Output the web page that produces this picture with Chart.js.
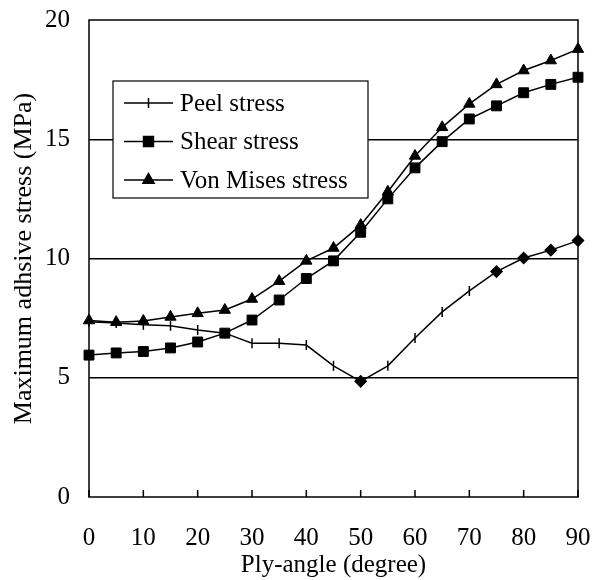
<!DOCTYPE html>
<html>
<head>
<meta charset="utf-8">
<script src="https://cdn.jsdelivr.net/npm/chart.js@4/dist/chart.umd.min.js"></script>
<style>
  html, body { margin: 0; padding: 0; background: #fff; }
  #wrap { width: 592px; height: 580px; }
</style>
</head>
<body>
<div id="wrap"><canvas id="chart" width="592" height="580"></canvas></div>
<script>
// Ply angle in degrees
const angles = [0, 5, 10, 15, 20, 25, 30, 35, 40, 45, 50, 55, 60, 65, 70, 75, 80, 85, 90];

// Maximum adhesive stress (MPa)
const peel_stress  = [7.35, 7.3, 7.22, 7.18, 7.0, 6.87, 6.45, 6.45, 6.37, 5.5, 4.85, 5.5, 6.67, 7.76, 8.64, 9.45, 10.02, 10.35, 10.75];
const shear_stress = [5.95, 6.04, 6.1, 6.25, 6.5, 6.87, 7.42, 8.26, 9.16, 9.9, 11.1, 12.5, 13.8, 14.9, 15.85, 16.4, 16.95, 17.3, 17.6];
const mises_stress = [7.4, 7.33, 7.38, 7.55, 7.7, 7.84, 8.3, 9.05, 9.9, 10.44, 11.4, 12.8, 14.3, 15.5, 16.48, 17.3, 17.88, 18.3, 18.78];

// peel markers: dashes, except where the original shows diamonds
const peel_diamonds = [50, 75, 80, 85, 90];

const y_ticks = [0, 5, 10, 15, 20];
const x_ticks = [0, 10, 20, 30, 40, 50, 60, 70, 80, 90];

const FONT = "'Liberation Serif', 'Times New Roman', serif";

function to_points(ys) {
    return angles.map((a, i) => ({x: a, y: ys[i]}));
}

const peel_styles = angles.map(a => peel_diamonds.includes(a) ? 'rectRot' : 'line');
const peel_rot = angles.map(a => peel_diamonds.includes(a) ? 0 : 90);
const peel_radius = angles.map(a => peel_diamonds.includes(a) ? 5.5 : 5);

// frame, inward x ticks and the boxed legend
const framePlugin = {
    id: 'frame',
    afterDraw(chart) {
        const ctx = chart.ctx;
        const area = chart.chartArea;
        const xs = chart.scales.x;
        ctx.save();
        ctx.strokeStyle = '#000';
        ctx.lineWidth = 1.5;
        ctx.strokeRect(area.left, area.top, area.right - area.left, area.bottom - area.top);

        ctx.beginPath();
        for (let i = 0; i < x_ticks.length; i++) {
            const px = xs.getPixelForValue(x_ticks[i]);
            ctx.moveTo(px, area.bottom);
            ctx.lineTo(px, area.bottom - 7);
        }
        ctx.stroke();

        // legend
        const lx = 113, ly = 81, lw = 255, lh = 117;
        ctx.fillStyle = '#fff';
        ctx.fillRect(lx, ly, lw, lh);
        ctx.lineWidth = 1.2;
        ctx.strokeRect(lx, ly, lw, lh);
        ctx.font = '25px ' + FONT;
        ctx.textBaseline = 'middle';
        const datasets = chart.data.datasets;
        for (let i = 0; i < datasets.length; i++) {
            const ds = datasets[i];
            const yy = ly + 22 + i * 38.5;
            ctx.strokeStyle = '#000';
            ctx.lineWidth = 1.5;
            ctx.beginPath();
            ctx.moveTo(124, yy);
            ctx.lineTo(173, yy);
            ctx.stroke();
            const style = Array.isArray(ds.pointStyle) ? 'line' : ds.pointStyle;
            ctx.fillStyle = '#000';
            Chart.helpers.drawPoint(ctx, {
                pointStyle: style,
                rotation: style === 'line' ? 90 : 0,
                radius: style === 'line' ? 5 : ds.pointRadius,
                borderWidth: 1.5
            }, 148.5, yy);
            ctx.fillStyle = '#000';
            ctx.fillText(ds.label, 180, yy + 1);
        }
        ctx.restore();
    }
};

const config = {
    type: 'line',
    data: {
        datasets: [
            {
                label: 'Peel stress',
                data: to_points(peel_stress),
                borderColor: '#000',
                backgroundColor: '#000',
                borderWidth: 1.5,
                pointStyle: peel_styles,
                pointRotation: peel_rot,
                pointRadius: peel_radius,
                pointBorderWidth: 1.5,
                clip: false
            },
            {
                label: 'Shear stress',
                data: to_points(shear_stress),
                borderColor: '#000',
                backgroundColor: '#000',
                borderWidth: 1.5,
                pointStyle: 'rect',
                pointRadius: 7,
                pointBorderWidth: 1,
                clip: false
            },
            {
                label: 'Von Mises stress',
                data: to_points(mises_stress),
                borderColor: '#000',
                backgroundColor: '#000',
                borderWidth: 1.5,
                pointStyle: 'triangle',
                pointRadius: 6.5,
                pointBorderWidth: 1,
                clip: false
            }
        ]
    },
    options: {
        responsive: false,
        animation: false,
        layout: { padding: { left: 0, right: 14, top: 20, bottom: 0 } },
        plugins: {
            legend: { display: false },
            tooltip: { enabled: false }
        },
        scales: {
            x: {
                type: 'linear',
                min: 0,
                max: 90,
                afterBuildTicks(scale) {
                    scale.ticks = x_ticks.map(v => ({value: v}));
                },
                afterFit(scale) {
                    scale.height = 83;
                    scale.paddingLeft = 0;
                    scale.paddingRight = 0;
                },
                grid: { display: false, drawTicks: false },
                border: { display: false },
                ticks: {
                    color: '#000',
                    padding: 26,
                    maxRotation: 0,
                    font: { family: FONT, size: 25 }
                },
                title: {
                    display: true,
                    text: 'Ply-angle (degree)',
                    color: '#000',
                    padding: { top: 0, bottom: 0 },
                    font: { family: FONT, size: 25 }
                }
            },
            y: {
                min: 0,
                max: 20,
                afterBuildTicks(scale) {
                    scale.ticks = y_ticks.map(v => ({value: v}));
                },
                afterFit(scale) {
                    scale.width = 89;
                    scale.paddingTop = 0;
                    scale.paddingBottom = 0;
                },
                grid: {
                    drawTicks: false,
                    lineWidth: 1.5,
                    color: ctx => (ctx.tick && ctx.tick.value > 0 && ctx.tick.value < 20) ? '#000' : 'rgba(0,0,0,0)'
                },
                border: { display: false },
                ticks: {
                    color: '#000',
                    padding: 19,
                    font: { family: FONT, size: 25 }
                },
                title: {
                    display: true,
                    text: 'Maximum adhsive stress (MPa)',
                    color: '#000',
                    padding: { top: 9, bottom: 0 },
                    font: { family: FONT, size: 26 }
                }
            }
        }
    },
    plugins: [framePlugin]
};

const chart = new Chart(document.getElementById('chart').getContext('2d'), config);
</script>
</body>
</html>
